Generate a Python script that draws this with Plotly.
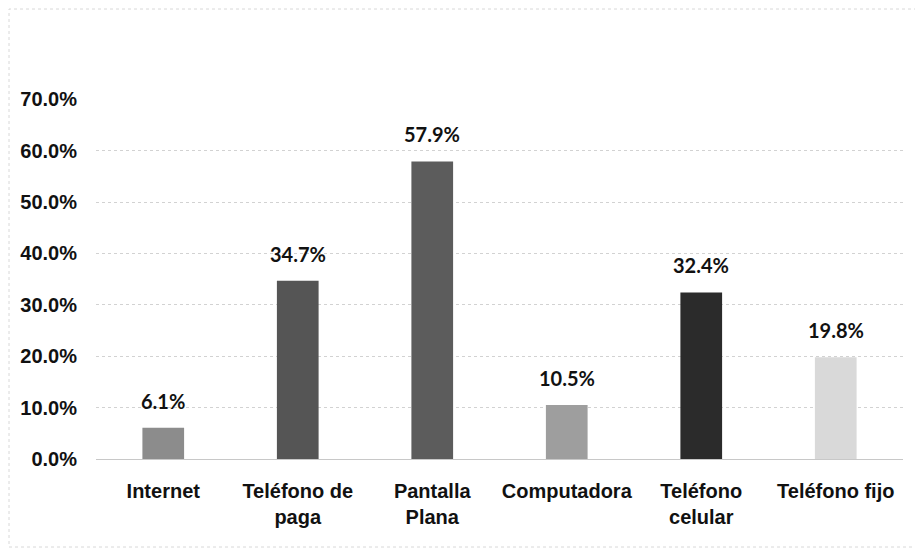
import plotly.graph_objects as go

categories = ["Internet", "Teléfono de<br>paga", "Pantalla<br>Plana", "Computadora", "Teléfono<br>celular", "Teléfono fijo"]
values = [6.1, 34.7, 57.9, 10.5, 32.4, 19.8]
labels = ["6.1%", "34.7%", "57.9%", "10.5%", "32.4%", "19.8%"]
colors = ["#8c8c8c", "#555555", "#5c5c5c", "#9e9e9e", "#2b2b2b", "#d9d9d9"]
y_ticks = [0, 10, 20, 30, 40, 50, 60, 70]
y_tick_labels = ["0.0%", "10.0%", "20.0%", "30.0%", "40.0%", "50.0%", "60.0%", "70.0%"]

fig = go.Figure(go.Bar(
    x=categories, y=values, marker=dict(color=colors, line=dict(width=0)),
    width=0.31,
))

for c, v, s in zip(categories, values, labels):
    fig.add_annotation(x=c, y=v, text=s, showarrow=False, yanchor="bottom", yshift=13,
                       font=dict(family="Lato, Liberation Sans Narrow, sans-serif", size=20,
                                 color="#111111", weight="bold"))

# page has an 8px body margin; figure sized to fill the 923x549 window
W, H = 915, 541
l, r, t, b = 88, 20, 91, 90
pw, ph = W - l - r, H - t - b

fig.update_layout(
    width=W, height=H, margin=dict(l=l, r=r, t=t, b=b),
    paper_bgcolor="white", plot_bgcolor="white", showlegend=False,
    xaxis=dict(showgrid=False, showline=False, ticks="", ticklabelstandoff=18,
               tickfont=dict(family="Liberation Sans, Arial, sans-serif", size=20, color="#111111", weight="bold")),
    yaxis=dict(range=[0, 70.05], tickvals=y_ticks, ticktext=y_tick_labels,
               showgrid=True, gridcolor="#d2d2d2", gridwidth=1, griddash="dot",
               zeroline=True, zerolinecolor="#c8c8c8", zerolinewidth=1,
               showline=False, ticks="", ticklabelstandoff=18,
               tickfont=dict(family="Liberation Sans Narrow, Arial Narrow, sans-serif", size=20, color="#111111", weight="bold")),
)

fig.add_shape(type="rect", xref="paper", yref="paper",
              x0=(1 - l) / pw, x1=(W - 3 - l) / pw,
              y0=(t + ph - (H - 2)) / ph, y1=(t + ph - 1) / ph,
              line=dict(color="#d8d8d8", width=1, dash="dot"), layer="below")

fig.write_html("out.html")
